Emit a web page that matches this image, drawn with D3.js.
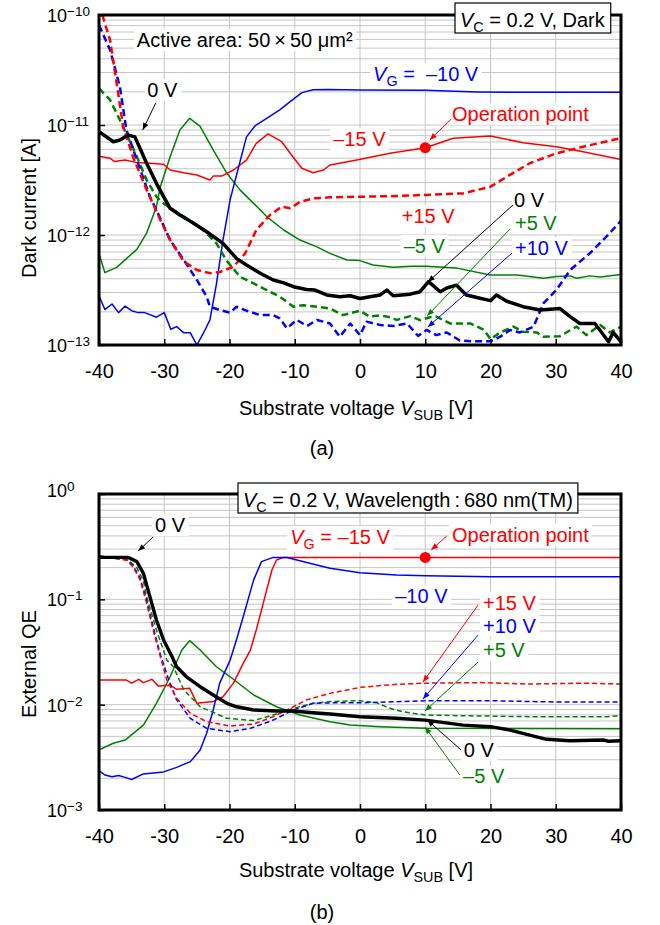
<!DOCTYPE html>
<html><head><meta charset="utf-8">
<script src="https://cdn.jsdelivr.net/npm/d3@7"></script>
<style>body{margin:0;background:#fff;} svg text{font-family:"Liberation Sans",Arial,sans-serif;}</style>
</head><body><svg id="c" width="660" height="925"></svg>
<script>
// ---------------- DATA ----------------
const X_TICKS = [-40,-30,-20,-10,0,10,20,30,40];
const DARK_EXPS = [-13,-12,-11,-10];
const QE_EXPS = [-3,-2,-1,0];

// (a) Dark current [A] vs V_SUB [V]
const darkVgM10 = [[-40,2.8e-13],[-39.1,2.1e-13],[-38,2.36e-13],[-37,1.97e-13],[-36,2.26e-13],[-35,2.05e-13],[-34,1.97e-13],[-33,1.97e-13],[-31.2,1.79e-13],[-30,1.97e-13],[-29,1.39e-13],[-28.1,1.47e-13],[-27,1.29e-13],[-26,1.29e-13],[-25,1.0e-13],[-24,1.28e-13],[-23,1.69e-13],[-22,3.6e-13],[-21,9e-13],[-19.9,2.1e-12],[-17.4,7.8e-12],[-16.1,9.8e-12],[-14.3,1.15e-11],[-12.3,1.37e-11],[-10.7,1.63e-11],[-8.9,1.97e-11],[-7.2,2.09e-11],[-5,2.1e-11],[0,2.08e-11],[10,2.07e-11],[18,2.0e-11],[25,1.98e-11],[40,1.98e-11]];
const darkVgM15 = [[-40,5.2e-12],[-38.3,4.98e-12],[-37.6,4.65e-12],[-36,4.8e-12],[-34.2,4.55e-12],[-32.2,4.49e-12],[-30.1,4.4e-12],[-29.1,3.9e-12],[-27,3.68e-12],[-25,3.51e-12],[-23,3.16e-12],[-22.5,3.43e-12],[-21.2,3.43e-12],[-19.4,3.9e-12],[-17.4,4.8e-12],[-15.9,6.8e-12],[-14.1,8.3e-12],[-12,7.05e-12],[-10.3,5.15e-12],[-8.9,4.04e-12],[-7.2,3.68e-12],[-5.6,3.9e-12],[-4.6,4.33e-12],[-0.5,4.8e-12],[4.6,5.53e-12],[10,6.22e-12],[14.3,7.57e-12],[20,7.94e-12],[25,6.9e-12],[30.1,6.35e-12],[34.2,5.7e-12],[40,4.85e-12]];
const darkVgP15 = [[-39.5,1e-10],[-38.3,5.9e-11],[-37.3,2.4e-11],[-36.3,9.7e-12],[-34.8,5.15e-12],[-32.7,2.57e-12],[-30.6,1.37e-12],[-29.1,9e-13],[-27,5.75e-13],[-25,4.8e-13],[-23,4.5e-13],[-21.5,4.6e-13],[-19.4,5.15e-13],[-17.6,6.8e-13],[-15.9,1.11e-12],[-13.8,1.52e-12],[-12,1.81e-12],[-10.7,1.75e-12],[-9.2,2.0e-12],[-7.2,2.15e-12],[-4.6,2.2e-12],[5.6,2.26e-12],[15.8,2.39e-12],[20,2.75e-12],[22.5,3.39e-12],[26,4.49e-12],[30.1,5.53e-12],[34.2,6.35e-12],[40,7.6e-12]];
const darkVgP10 = [[-40,8.1e-11],[-38.3,4.8e-11],[-36.8,2.23e-11],[-35.8,9e-12],[-34.2,4.8e-12],[-32.2,2.23e-12],[-31.2,1.69e-12],[-29.1,9e-13],[-27,5.93e-13],[-25,3.9e-13],[-23.5,2.75e-13],[-23,2.23e-13],[-21.5,2.08e-13],[-19.9,1.97e-13],[-18.9,2.23e-13],[-17.4,2.05e-13],[-15.3,1.87e-13],[-13.3,1.87e-13],[-12.3,1.75e-13],[-11.2,1.42e-13],[-9.7,1.69e-13],[-8.1,1.49e-13],[-6.6,1.69e-13],[-4.6,1.57e-13],[-3.1,1.19e-13],[-1.5,1.57e-13],[0,1.23e-13],[1,1.63e-13],[3.1,1.52e-13],[5.1,1.49e-13],[7.2,1.57e-13],[8.9,1.21e-13],[10.2,1.37e-13],[11.7,1.23e-13],[13.3,1.3e-13],[15.3,1.1e-13],[17.4,1.08e-13],[20,1.08e-13],[21.5,1.19e-13],[23,1.37e-13],[24.5,1.3e-13],[26.6,1.47e-13],[28.1,2.39e-13],[30.1,3.16e-13],[32.2,4.8e-13],[35.2,6.8e-13],[37.8,9.7e-13],[40,1.35e-12]];
const darkVg0 = [[-40,8.7e-12],[-37.8,7.05e-12],[-36.8,7.3e-12],[-35.5,8.1e-12],[-34.5,7.8e-12],[-32.7,4.49e-12],[-31.2,2.95e-12],[-30.1,2.23e-12],[-29.1,1.75e-12],[-27.6,1.52e-12],[-25.5,1.28e-12],[-23.5,1.07e-12],[-21,8.4e-13],[-18.9,6.1e-13],[-17.4,5.33e-13],[-15.3,4.49e-13],[-13.3,3.9e-13],[-11.7,3.67e-13],[-10.2,3.39e-13],[-8.2,3.2e-13],[-6.9,3.16e-13],[-5.1,2.85e-13],[-3.1,2.75e-13],[-1.5,2.8e-13],[0,2.65e-13],[3.1,2.85e-13],[4.1,3.16e-13],[5.1,2.8e-13],[7.7,2.9e-13],[9.2,3.05e-13],[10.5,3.77e-13],[12.3,3.05e-13],[13.3,3.3e-13],[14.8,3.5e-13],[16.3,2.85e-13],[17.9,2.7e-13],[20,2.53e-13],[20.9,2.85e-13],[22.5,2.5e-13],[25,2.23e-13],[27.6,2.08e-13],[30.6,2.15e-13],[32.2,1.81e-13],[33.7,1.57e-13],[36,1.57e-13],[38.1,1.07e-13],[38.8,1.3e-13],[40,1.07e-13]];
const darkVgP5 = [[-40,2.15e-11],[-38.3,1.69e-11],[-36.8,1.11e-11],[-34.2,5.15e-12],[-32.7,3.16e-12],[-31.2,2.23e-12],[-30.1,1.94e-12],[-28.6,1.69e-12],[-26.6,1.42e-12],[-24,1.11e-12],[-22,8.4e-13],[-20.5,5.9e-13],[-18.4,4.18e-13],[-16.3,3.63e-13],[-14.3,3.16e-13],[-12.3,2.75e-13],[-10.2,2.23e-13],[-8.7,2.3e-13],[-6.6,2.23e-13],[-4.6,2.15e-13],[-2.6,1.87e-13],[0,2.05e-13],[1.5,1.81e-13],[3.1,1.86e-13],[4.6,1.79e-13],[5.6,1.69e-13],[7.7,1.83e-13],[9.2,1.68e-13],[10.7,1.79e-13],[11.7,1.81e-13],[13.8,1.57e-13],[16.9,1.57e-13],[19,1.37e-13],[20,1.13e-13],[21.5,1.3e-13],[23.5,1.47e-13],[25,1.32e-13],[27.1,1.3e-13],[28.1,1.19e-13],[30.6,1.2e-13],[33.2,1.47e-13],[34.7,1.23e-13],[36.8,1.52e-13],[38.3,1.3e-13],[40,1.47e-13]];
const darkVgM5 = [[-40,6.8e-13],[-39.1,4.55e-13],[-37.3,5.08e-13],[-34.2,7.4e-13],[-32.7,1.04e-12],[-31.2,1.81e-12],[-30.6,2.75e-12],[-29.1,5.15e-12],[-27.6,9e-12],[-26.1,1.15e-11],[-24.5,9.7e-12],[-22.5,5.93e-12],[-20.4,3.64e-12],[-18.4,2.57e-12],[-16.3,1.94e-12],[-14.3,1.47e-12],[-11.7,1.11e-12],[-9.2,9e-13],[-6.6,7.8e-13],[-4.6,6.8e-13],[-2,5.93e-13],[0,5.85e-13],[2,5.33e-13],[5.1,5.08e-13],[7.7,5.2e-13],[10.2,5.2e-13],[14.8,5e-13],[20,4.33e-13],[24.1,4.33e-13],[28.1,4.04e-13],[30.1,4.2e-13],[32.2,4.25e-13],[33.2,4.04e-13],[35.2,4.25e-13],[36.8,4.15e-13],[40,4.37e-13]];
const darkOpPoint = [10, 6.22e-12];

// (b) External QE vs V_SUB [V]
const qeVgM15 = [[-40,0.0171],[-37.3,0.0171],[-35.8,0.0171],[-35,0.016],[-33.9,0.0174],[-33.2,0.0162],[-31.9,0.0174],[-30.9,0.015],[-29.1,0.0153],[-28.1,0.014],[-26.1,0.0143],[-25,0.0103],[-22.5,0.0107],[-21,0.0119],[-19.4,0.016],[-17.9,0.0247],[-16.8,0.033],[-15.9,0.0512],[-15.1,0.079],[-14.3,0.123],[-13.5,0.19],[-12.8,0.236],[-11.7,0.25],[40,0.25]];
const qeVgM10 = [[-40,0.00236],[-39.1,0.00215],[-38,0.00207],[-37,0.00213],[-36,0.00204],[-35,0.00195],[-33.2,0.0022],[-30.1,0.0023],[-28.1,0.00254],[-26,0.00288],[-24.5,0.00372],[-23.5,0.00535],[-22.5,0.0089],[-21.5,0.016],[-19.9,0.0265],[-19,0.04],[-17.9,0.0684],[-16.3,0.153],[-15.1,0.228],[-13.3,0.25],[-11.2,0.25],[-7.7,0.22],[-4.6,0.197],[0,0.179],[5.6,0.17],[10,0.167],[20,0.164],[40,0.164]];
const qeVg0 = [[-40,0.25],[-35.5,0.25],[-34.2,0.228],[-33.2,0.177],[-32.2,0.106],[-31.2,0.0637],[-30.1,0.0411],[-28.8,0.0285],[-28.1,0.0229],[-26.6,0.0184],[-24.5,0.0148],[-22.5,0.01235],[-20.4,0.0103],[-18.9,0.00955],[-16.3,0.0089],[-12.8,0.0087],[-10.2,0.0087],[-7.2,0.00839],[-4.6,0.00815],[0,0.00769],[5.6,0.00742],[10,0.00714],[15.8,0.0064],[20,0.00618],[23,0.00574],[26,0.00515],[28.6,0.00469],[32.2,0.00455],[37.3,0.00462],[38,0.0045],[40,0.00455]];
const qeVgM5 = [[-40,0.00372],[-37.8,0.0043],[-36,0.00461],[-33.2,0.0064],[-31.2,0.0103],[-29.1,0.0184],[-27.3,0.033],[-26.1,0.0405],[-24.5,0.033],[-22,0.0229],[-19.9,0.0184],[-16.3,0.01235],[-12.8,0.00955],[-9.2,0.00798],[-4.6,0.00689],[-1.5,0.0064],[3.1,0.00618],[10,0.00596],[40,0.0059]];
const qeVgP15 = [[-40,0.258],[-35.8,0.236],[-34.8,0.204],[-33.7,0.153],[-32.7,0.0917],[-31.7,0.0512],[-30.6,0.0285],[-29.6,0.0171],[-28.1,0.0115],[-26,0.00828],[-23.5,0.00689],[-19.9,0.00627],[-16.3,0.00655],[-13.3,0.00769],[-10.7,0.00923],[-8.2,0.0111],[-4.6,0.0128],[0,0.0146],[5.6,0.0156],[10,0.016],[18.4,0.0162],[26,0.0157],[34.7,0.016],[40,0.0157]];
const qeVgP10 = [[-40,0.258],[-35.8,0.24],[-34.8,0.21],[-33.7,0.16],[-32.7,0.098],[-31.7,0.055],[-30.6,0.03],[-29.3,0.0171],[-28.1,0.0111],[-26,0.0074],[-23.5,0.00596],[-19.9,0.00554],[-16.8,0.00596],[-13.3,0.00714],[-10.2,0.0089],[-7.2,0.0103],[-4.6,0.0104],[0,0.0104],[10,0.0109],[20,0.0109],[30,0.0106],[40,0.0106]];
const qeVgP5 = [[-40,0.255],[-35.5,0.235],[-34.2,0.2],[-33.2,0.15],[-32.7,0.106],[-31.2,0.0512],[-29.6,0.0264],[-28.6,0.0229],[-27,0.0138],[-24.5,0.00955],[-20.4,0.00742],[-16.3,0.00706],[-13.3,0.00798],[-10.2,0.00923],[-7.2,0.0103],[-4.6,0.0107],[0,0.0109],[2.6,0.0104],[4.6,0.00923],[6.6,0.00856],[10,0.00798],[15.8,0.00785],[26,0.00769],[37.8,0.00769],[40,0.00785]];
const qeOpPoint = [10, 0.25];

// ---------------- DRAW ----------------
const COL = {red:"#ff0000", blue:"#0000ff", green:"#008000", black:"#000000"};
const svg = d3.select("#c");
svg.append("rect").attr("width",660).attr("height",925).attr("fill","#fff");
const defs = svg.append("defs");
Object.entries(COL).forEach(([k,c])=>{
  defs.append("marker").attr("id","arr-"+k).attr("viewBox","0 0 10 10").attr("refX",10).attr("refY",5)
    .attr("markerWidth",8).attr("markerHeight",7).attr("markerUnits","userSpaceOnUse").attr("orient","auto")
    .append("path").attr("d","M0,1 L10,5 L0,9 z").attr("fill",c);
});

function richText(parent, x, y, parts, opts) {
  const size = opts.size || 20;
  const t = parent.append("text").attr("x",x).attr("y",y).attr("font-size",size)
    .attr("fill",opts.color||"#000").attr("text-anchor",opts.anchor||"start");
  if (opts.family) t.attr("font-family", opts.family);
  let shift = 0;
  parts.forEach(p=>{
    const s = t.append("tspan").text(p.t);
    if (p.i) s.attr("font-style","italic");
    if (p.sub) { s.attr("font-size",size*0.72).attr("dy",5-shift); shift=5; }
    else if (shift) { s.attr("dy",-shift); shift=0; }
  });
  return t;
}

function drawPanel(cfg) {
  const L = 99, R = 621;
  const x = d3.scaleLinear().domain([-40,40]).range([L,R]);
  const y = d3.scaleLog().domain(cfg.domain).range([cfg.bottom, cfg.top]);
  const clipId = "clip-"+cfg.key;
  defs.append("clipPath").attr("id",clipId).append("rect")
    .attr("x",L).attr("y",cfg.top).attr("width",R-L).attr("height",cfg.bottom-cfg.top);

  const g = svg.append("g");
  const gridG = g.append("g"), bgG = g.append("g"), curveG = g.append("g"),
        frameG = g.append("g"), annoG = g.append("g");

  // grid
  const hVals = [];
  cfg.exps.slice(0,-1).forEach((e,i)=>{
    for (let k=1;k<=9;k++){ if (i===0 && k===1) continue; hVals.push(k*Math.pow(10,e)); }
  });
  gridG.selectAll("line.h").data(hVals).join("line").attr("class","h")
    .attr("x1",L).attr("x2",R).attr("y1",d=>y(d)).attr("y2",d=>y(d))
    .attr("stroke","#c6c6c6").attr("stroke-width",1);
  gridG.selectAll("line.v").data(X_TICKS.slice(1,-1)).join("line").attr("class","v")
    .attr("x1",d=>x(d)).attr("x2",d=>x(d)).attr("y1",cfg.top).attr("y2",cfg.bottom)
    .attr("stroke","#c6c6c6").attr("stroke-width",1);

  // curves
  const line = d3.line().x(d=>x(d[0])).y(d=>y(d[1]));
  cfg.series.forEach(s=>{
    curveG.append("path").attr("clip-path",`url(#${clipId})`).attr("d",line(s.data))
      .attr("fill","none").attr("stroke",COL[s.color]).attr("stroke-width",s.w)
      .attr("stroke-dasharray",s.dash||null).attr("stroke-linejoin","round");
  });

  // frame + axes
  frameG.append("rect").attr("x",L).attr("y",cfg.top).attr("width",R-L).attr("height",cfg.bottom-cfg.top)
    .attr("fill","none").attr("stroke","#000").attr("stroke-width",3);
  const xAx = frameG.append("g").attr("transform",`translate(0,${cfg.bottom})`)
    .call(d3.axisBottom(x).tickValues(X_TICKS).tickSize(-6).tickFormat(d=>String(d)));
  xAx.attr("font-size",20).attr("font-family","Liberation Sans, Arial, sans-serif");
  xAx.select(".domain").remove();
  xAx.selectAll(".tick line").attr("stroke","#000").attr("stroke-width",1.5);
  xAx.selectAll(".tick text").attr("y",cfg.xLabOff).attr("dy",0).attr("fill","#000");
  const decades = cfg.exps.map(e=>Math.pow(10,e));
  const yAx = frameG.append("g").attr("transform",`translate(${L},0)`)
    .call(d3.axisLeft(y).tickValues(decades).tickSize(-6).tickFormat(""));
  yAx.select(".domain").remove();
  yAx.selectAll(".tick line").attr("stroke","#000").attr("stroke-width",1.5);
  cfg.exps.forEach(e=>{
    const off = (e===0) ? 3 : 7;
    const t = frameG.append("text").attr("x",47).attr("y",y(Math.pow(10,e))+off).attr("font-size",18).attr("fill","#000");
    t.append("tspan").text("10");
    t.append("tspan").attr("font-size",13.5).attr("dy",-6).text(e===0?"0":"\u2212"+Math.abs(e));
  });

  // titles
  richText(svg, 356, cfg.bottom+cfg.titleOff, [{t:"Substrate voltage "},{t:"V",i:true},{t:"SUB",sub:true},{t:" [V]"}], {anchor:"middle"});
  svg.append("text").attr("transform",`translate(36,${cfg.yTitleY}) rotate(-90)`).attr("text-anchor","middle")
    .attr("font-size",20).text(cfg.yTitle);
  svg.append("text").attr("x",322).attr("y",cfg.capY).attr("text-anchor","middle").attr("font-size",20)
    .attr("font-family","Liberation Serif, Times New Roman, serif").text(cfg.caption);

  // annotations
  cfg.arrows.forEach(a=>{
    annoG.append("line").attr("x1",x(a.from[0])).attr("y1",y(a.from[1])).attr("x2",x(a.to[0])).attr("y2",y(a.to[1]))
      .attr("stroke",COL[a.color]).attr("stroke-width",1).attr("marker-end",`url(#arr-${a.color})`);
  });
  annoG.append("circle").attr("cx",x(cfg.op[0])).attr("cy",y(cfg.op[1])).attr("r",5.5).attr("fill",COL.red);
  cfg.labels.forEach(lb=>{
    const t = richText(annoG, x(lb.at[0]), y(lb.at[1]), lb.parts, {color:COL[lb.color]});
    const bb = t.node().getBBox();
    bgG.append("rect").attr("x",bb.x-3).attr("y",bb.y).attr("width",bb.width+6).attr("height",bb.height)
      .attr("fill","#fff");
  });
  // condition box
  const bx = annoG.append("g");
  const bt = richText(bx, cfg.box.x+5, cfg.box.y+24, cfg.box.parts, {color:"#000"});
  const bbb = bt.node().getBBox();
  bx.insert("rect","text").attr("x",cfg.box.x).attr("y",cfg.box.y).attr("width",bbb.width+10).attr("height",30)
    .attr("fill","#fff").attr("stroke","#000").attr("stroke-width",1.2);
}

drawPanel({
  key:"a", domain:[1e-13,1e-10], exps:DARK_EXPS, top:15, bottom:345,
  xLabOff:33, titleOff:70, yTitle:"Dark current [A]", yTitleY:208, caption:"(a)", capY:455,
  series:[
    {data:darkVgM5, color:"green", w:1.5},
    {data:darkVgM15, color:"red", w:1.5},
    {data:darkVgM10, color:"blue", w:1.5},
    {data:darkVgP5, color:"green", w:2.5, dash:"7,4"},
    {data:darkVgP10, color:"blue", w:2.5, dash:"7,4"},
    {data:darkVgP15, color:"red", w:2.5, dash:"7,4"},
    {data:darkVg0, color:"black", w:3.5}
  ],
  op: darkOpPoint,
  labels:[
    {at:[-34.2,5.12e-11], color:"black", parts:[{t:"Active area: 50\u2009\u00d7\u200950 \u03bcm\u00b2"}]},
    {at:[2.0,2.51e-11], color:"blue", parts:[{t:"V",i:true},{t:"G",sub:true},{t:" =\u00a0 \u201310 V"}]},
    {at:[14.1,1.087e-11], color:"red", parts:[{t:"Operation point"}]},
    {at:[-4.1,6.44e-12], color:"red", parts:[{t:"\u201315 V"}]},
    {at:[-32.6,1.8e-11], color:"black", parts:[{t:"0 V"}]},
    {at:[6.4,1.285e-12], color:"red", parts:[{t:"+15 V"}]},
    {at:[6.7,6.86e-13], color:"green", parts:[{t:"\u20135 V"}]},
    {at:[23.6,1.8e-12], color:"black", parts:[{t:"0 V"}]},
    {at:[23.75,1.11e-12], color:"green", parts:[{t:"+5 V"}]},
    {at:[23.75,6.58e-13], color:"blue", parts:[{t:"+10 V"}]}
  ],
  arrows:[
    {from:[14.0,1.135e-11], to:[10.7,7.31e-12], color:"red"},
    {from:[-31.3,1.585e-11], to:[-33.3,9.0e-12], color:"black"},
    {from:[23.45,1.875e-12], to:[10.4,3.74e-13], color:"black"},
    {from:[23.0,1.135e-12], to:[10.3,1.84e-13], color:"green"},
    {from:[23.3,6.86e-13], to:[10.4,1.46e-13], color:"blue"}
  ],
  box:{x:455, y:3, parts:[{t:"V",i:true},{t:"C",sub:true},{t:" = 0.2 V, Dark"}]}
});

drawPanel({
  key:"b", domain:[1e-3,1], exps:QE_EXPS, top:494, bottom:810,
  xLabOff:33, titleOff:67, yTitle:"External QE", yTitleY:664, caption:"(b)", capY:919,
  series:[
    {data:qeVgM5, color:"green", w:1.5},
    {data:qeVgM15, color:"red", w:1.5},
    {data:qeVgM10, color:"blue", w:1.5},
    {data:qeVgP5, color:"green", w:1.5, dash:"5,3"},
    {data:qeVgP10, color:"blue", w:1.5, dash:"5,3"},
    {data:qeVgP15, color:"red", w:1.5, dash:"5,3"},
    {data:qeVg0, color:"black", w:3.4}
  ],
  op: qeOpPoint,
  labels:[
    {at:[-31.4,0.4356], color:"black", parts:[{t:"0 V"}]},
    {at:[-10.7,0.335], color:"red", parts:[{t:"V",i:true},{t:"G",sub:true},{t:" = \u201315 V"}]},
    {at:[14.1,0.35], color:"red", parts:[{t:"Operation point"}]},
    {at:[5.4,0.0923], color:"blue", parts:[{t:"\u201310 V"}]},
    {at:[18.85,0.0792], color:"red", parts:[{t:"+15 V"}]},
    {at:[18.85,0.0479], color:"blue", parts:[{t:"+10 V"}]},
    {at:[18.85,0.0283], color:"green", parts:[{t:"+5 V"}]},
    {at:[15.9,0.00318], color:"black", parts:[{t:"0 V"}]},
    {at:[15.8,0.0018], color:"green", parts:[{t:"\u20135 V"}]}
  ],
  arrows:[
    {from:[-31.7,0.391], to:[-34.0,0.2877], color:"black"},
    {from:[13.3,0.399], to:[10.9,0.294], color:"red"},
    {from:[18.1,0.0883], to:[9.65,0.0164], color:"red"},
    {from:[18.1,0.0458], to:[9.65,0.01132], color:"blue"},
    {from:[18.1,0.0254], to:[9.96,0.00871], color:"green"},
    {from:[15.5,0.00371], to:[10.3,0.00715], color:"black"},
    {from:[15.3,0.00215], to:[9.96,0.00614], color:"green"}
  ],
  box:{x:238, y:483, parts:[{t:"V",i:true},{t:"C",sub:true},{t:" = 0.2 V, Wavelength\u2009:\u2009680 nm(TM)"}]}
});
</script></body></html>
